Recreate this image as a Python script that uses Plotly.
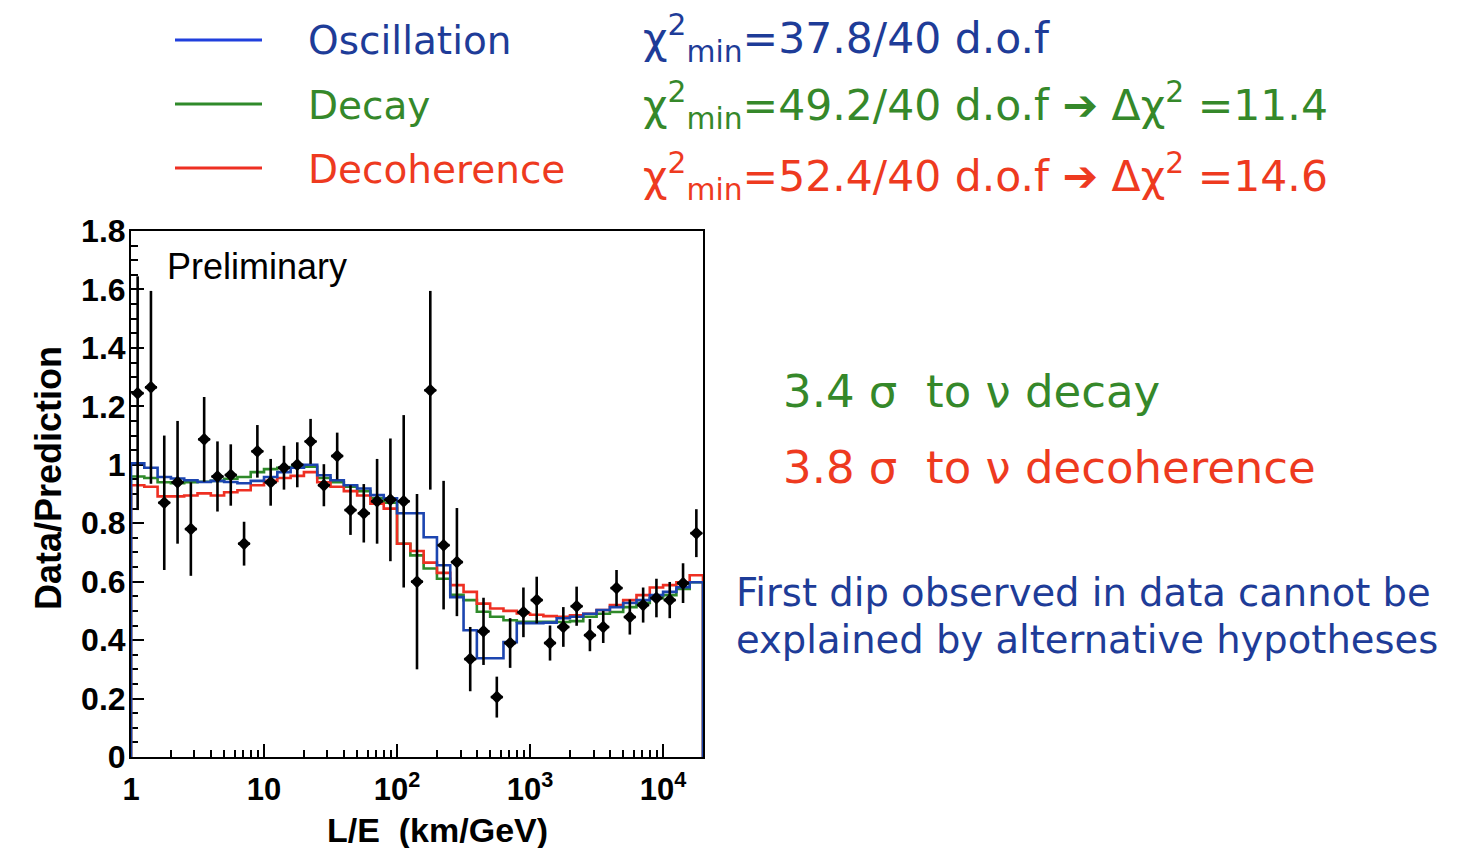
import plotly.graph_objects as go

# log10(L/E) bin edges of the histogram (43 bins from 1 to 10^4.3 km/GeV)
LOG_LE_EDGES = [0.0, 0.1, 0.2, 0.3, 0.4, 0.5, 0.6, 0.7, 0.8, 0.9,
                1.0, 1.1, 1.2, 1.3, 1.4, 1.5, 1.6, 1.7, 1.8, 1.9,
                2.0, 2.1, 2.2, 2.3, 2.4, 2.5, 2.6, 2.7, 2.8, 2.9,
                3.0, 3.1, 3.2, 3.3, 3.4, 3.5, 3.6, 3.7, 3.8, 3.9,
                4.0, 4.1, 4.2, 4.3]

# measured Data/Prediction per bin and its statistical error
DATA_RATIO = [1.245, 1.265, 0.870, 0.940, 0.780, 1.087, 0.960, 0.965, 0.730, 1.046,
              0.940, 0.990, 1.000, 1.080, 0.930, 1.030, 0.845, 0.834, 0.875, 0.880,
              0.875, 0.600, 1.255, 0.725, 0.667, 0.335, 0.430, 0.205, 0.390, 0.495,
              0.537, 0.390, 0.445, 0.516, 0.417, 0.445, 0.578, 0.479, 0.520, 0.544,
              0.537, 0.595, 0.766]
DATA_ERR = [0.400, 0.330, 0.230, 0.210, 0.160, 0.145, 0.120, 0.105, 0.075, 0.090,
            0.080, 0.075, 0.077, 0.077, 0.072, 0.080, 0.085, 0.100, 0.145, 0.210,
            0.295, 0.300, 0.340, 0.220, 0.185, 0.110, 0.115, 0.070, 0.085, 0.085,
            0.080, 0.060, 0.068, 0.067, 0.055, 0.055, 0.062, 0.060, 0.060, 0.066,
            0.062, 0.068, 0.082]

# best-fit expectations for the three hypotheses
OSCILLATION = [1.005, 0.990, 0.958, 0.953, 0.947, 0.941, 0.945, 0.941, 0.937, 0.945,
               0.958, 0.975, 0.990, 1.000, 0.964, 0.947, 0.930, 0.919, 0.896, 0.885,
               0.834, 0.834, 0.752, 0.656, 0.547, 0.434, 0.338, 0.338, 0.393, 0.458,
               0.458, 0.460, 0.475, 0.480, 0.490, 0.503, 0.513, 0.527, 0.537, 0.554,
               0.565, 0.581, 0.598]
DECAY = [0.960, 0.955, 0.940, 0.937, 0.940, 0.942, 0.945, 0.952, 0.958, 0.975,
         0.985, 0.990, 0.992, 0.993, 0.955, 0.940, 0.925, 0.910, 0.885, 0.870,
         0.730, 0.690, 0.645, 0.610, 0.555, 0.537, 0.497, 0.480, 0.468, 0.463,
         0.463, 0.463, 0.462, 0.465, 0.480, 0.490, 0.496, 0.513, 0.527, 0.543,
         0.554, 0.575, 0.598]
DECOHERENCE = [0.930, 0.925, 0.892, 0.892, 0.895, 0.902, 0.895, 0.906, 0.913, 0.930,
               0.945, 0.955, 0.962, 0.975, 0.940, 0.925, 0.910, 0.895, 0.867, 0.850,
               0.730, 0.705, 0.665, 0.630, 0.588, 0.565, 0.525, 0.508, 0.500, 0.491,
               0.487, 0.482, 0.480, 0.485, 0.490, 0.503, 0.520, 0.537, 0.554, 0.580,
               0.588, 0.598, 0.622]

Y_TICKS = [0, 0.2, 0.4, 0.6, 0.8, 1.0, 1.2, 1.4, 1.6, 1.8]
Y_TICK_TEXT = ["0", "0.2", "0.4", "0.6", "0.8", "1", "1.2", "1.4", "1.6", "1.8"]
X_TICKS = [1, 10, 100, 1000, 10000]
X_TICK_TEXT = ["1", "10", "10<sup>2</sup>", "10<sup>3</sup>", "10<sup>4</sup>"]

BLUE_LINE = "#1c45b0"
GREEN_LINE = "#2f8a2a"
RED_LINE = "#ee2f22"
BLUE_TEXT = "#1e3c98"
GREEN_TEXT = "#35882a"
RED_TEXT = "#ee3a1f"

SLIDE_FONT = "DejaVu Sans"
PLOT_FONT = "Liberation Sans, Arial, sans-serif"

W, H = 1463, 848
PLOT_L, PLOT_R, PLOT_T, PLOT_B = 131, 703, 231, 757

le_edges = [10 ** e for e in LOG_LE_EDGES]
le_centers = [10 ** ((a + b) / 2) for a, b in zip(LOG_LE_EDGES[:-1], LOG_LE_EDGES[1:])]


def step_path(values):
    """Closed histogram outline: rises from 0 at the first edge, drops to 0 at the last."""
    xs = [le_edges[0]] + le_edges[:-1] + [le_edges[-1], le_edges[-1]]
    ys = [0.0] + list(values) + [values[-1], 0.0]
    return xs, ys


def paper(px, py):
    return (px - PLOT_L) / (PLOT_R - PLOT_L), (PLOT_B - py) / (PLOT_B - PLOT_T)


fig = go.Figure()

for name, vals, col in [("Decay", DECAY, GREEN_LINE),
                        ("Decoherence", DECOHERENCE, RED_LINE),
                        ("Oscillation", OSCILLATION, BLUE_LINE)]:
    xs, ys = step_path(vals)
    fig.add_trace(go.Scatter(x=xs, y=ys, mode="lines", name=name,
                             line=dict(color=col, width=2.6, shape="hv"),
                             showlegend=False, hoverinfo="skip"))

arm = 0.045  # half-length of the horizontal marker arms, in decades
fig.add_trace(go.Scatter(
    x=le_centers, y=DATA_RATIO, mode="markers", name="Data",
    marker=dict(symbol="diamond", size=10, color="black"),
    error_y=dict(type="data", array=DATA_ERR, color="black", thickness=2.6, width=0),
    error_x=dict(type="data", symmetric=False,
                 array=[c * (10 ** arm - 1) for c in le_centers],
                 arrayminus=[c * (1 - 10 ** -arm) for c in le_centers],
                 color="black", thickness=2.6, width=0),
    showlegend=False))

fig.update_xaxes(type="log", range=[LOG_LE_EDGES[0], LOG_LE_EDGES[-1]],
                 tickvals=X_TICKS, ticktext=X_TICK_TEXT,
                 ticks="inside", ticklen=13, tickwidth=1.5, tickcolor="black",
                 minor=dict(ticks="inside", ticklen=7, tickwidth=1.5, tickcolor="black",
                            dtick="D1", showgrid=False),
                 tickfont=dict(family=PLOT_FONT, size=31, color="black", weight="bold"),
                 ticklabelstandoff=4,
                 showline=True, linecolor="black", linewidth=2, mirror=True,
                 showgrid=False, zeroline=False, layer="below traces")
fig.update_yaxes(range=[0, 1.8], tickvals=Y_TICKS, ticktext=Y_TICK_TEXT,
                 ticks="inside", ticklen=13, tickwidth=1.5, tickcolor="black",
                 minor=dict(ticks="inside", ticklen=7, tickwidth=1.5, tickcolor="black",
                            dtick=0.05, showgrid=False),
                 tickfont=dict(family=PLOT_FONT, size=32, color="black", weight="bold"),
                 ticklabelstandoff=-3,
                 showline=True, linecolor="black", linewidth=2, mirror=True,
                 showgrid=False, zeroline=False, layer="below traces")

annotations = []


def note(text, px, py, size, color, family=SLIDE_FONT, xanchor="left", **kw):
    x, y = paper(px, py)
    annotations.append(dict(text=text, x=x, y=y, xref="paper", yref="paper",
                            xanchor=xanchor, yanchor="middle", showarrow=False,
                            font=dict(family=family, size=size, color=color), **kw))


# axis titles and plot label
note("<b>Data/Prediction</b>", 48, 478, 36, "black", family=PLOT_FONT,
     xanchor="center", textangle=-90)
note("<b>L/E\u00a0\u00a0(km/GeV)</b>", 437, 830, 34, "black", family=PLOT_FONT,
     xanchor="center")
note("Preliminary", 165, 266, 36, "black", family=PLOT_FONT)

# legend: line samples and labels
legend_rows = [("Oscillation", BLUE_TEXT, "#2040dd", 40),
               ("Decay", GREEN_TEXT, GREEN_LINE, 104),
               ("Decoherence", RED_TEXT, RED_LINE, 168)]
shapes = []
for label, tcol, lcol, py in legend_rows:
    x0, y0 = paper(175, py)
    x1, _ = paper(262, py)
    shapes.append(dict(type="line", xref="paper", yref="paper", x0=x0, x1=x1,
                       y0=y0, y1=y0, line=dict(color=lcol, width=3)))
    note(label, 306, py + 1, 39, tcol)

# fit quality
chi = "\u03c7<sup>2</sup><sub>min</sub>"
arrow = "\u2794"
note(chi + "=37.8/40 d.o.f", 641, 38, 42.5, BLUE_TEXT)
note(chi + "=49.2/40 d.o.f " + arrow + " \u0394\u03c7<sup>2</sup> =11.4", 641, 105, 42.5, GREEN_TEXT)
note(chi + "=52.4/40 d.o.f " + arrow + " \u0394\u03c7<sup>2</sup> =14.6", 641, 176, 42.5, RED_TEXT)

# significance statements
note("3.4 \u03c3\u00a0 to \u03bd decay", 781, 391, 45, GREEN_TEXT)
note("3.8 \u03c3\u00a0 to \u03bd decoherence", 781, 467, 45, RED_TEXT)
note("First dip observed in data cannot be", 734, 592, 38.5, BLUE_TEXT)
note("explained by alternative hypotheses", 734, 639, 38.5, BLUE_TEXT)

fig.update_layout(
    width=W, height=H,
    margin=dict(l=PLOT_L, r=W - PLOT_R, t=PLOT_T, b=H - PLOT_B, pad=0),
    paper_bgcolor="white", plot_bgcolor="white",
    annotations=annotations, shapes=shapes,
    showlegend=False,
)

fig.write_html("out.html")
